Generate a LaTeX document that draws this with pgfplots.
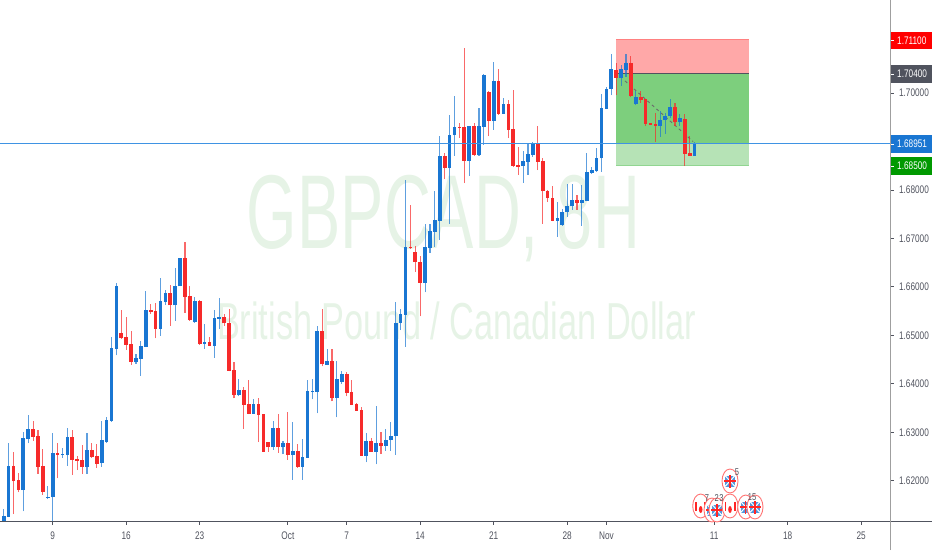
\documentclass[border=0pt]{standalone}
\usepackage{pgfplots}
\usepackage{pgfplotstable}
\usepackage{graphicx}
\usepackage{fontspec}
\setmainfont{Liberation Sans}
\pgfplotsset{compat=1.18}
\definecolor{upc}{HTML}{1976D2}
\definecolor{dnc}{HTML}{F62A2A}
\definecolor{wm}{HTML}{E6F3E6}
\definecolor{axc}{HTML}{50535E}
\definecolor{lab}{HTML}{50535E}
\definecolor{priceline}{HTML}{3F93E3}
\newcommand\sq[1]{\scalebox{.75}[1]{#1}}
\newcommand\UK[2]{\begin{scope}[shift={(#1pt,#2pt)}]
 \draw[draw=red!55,fill=white,line width=.9pt] (0,0) ellipse (8pt and 12pt);
 \fill[upc!75] (-5pt,-5.5pt) rectangle (5pt,5.5pt);
 \draw[white,line width=1pt] (-5pt,-5.5pt)--(5pt,5.5pt) (-5pt,5.5pt)--(5pt,-5.5pt);
 \draw[red!85,line width=1.1pt] (-6pt,0)--(6pt,0) (0,-6.5pt)--(0,6.5pt);
\end{scope}}
\newcommand\CA[2]{\begin{scope}[shift={(#1pt,#2pt)}]
 \draw[draw=red!55,fill=white,line width=.9pt] (0,0) ellipse (8pt and 12pt);
 \fill[red!85] (-5.5pt,-4.5pt) rectangle (-3.7pt,4.5pt);
 \fill[red!85] (3.7pt,-4.5pt) rectangle (5.5pt,4.5pt);
 \fill[red!85] (0,-3.5pt) ellipse (1.8pt and 3.5pt);
\end{scope}}
% i open close high low
\pgfplotstableread{
i o c h l
0 1.6117 1.6128 1.6141 1.6117
1 1.6126 1.6231 1.6279 1.6125
4 1.6181 1.6289 1.6301 1.6137
5 1.6286 1.6306 1.6335 1.6277
9 1.6165 1.6167 1.6189 1.6162
10 1.6166 1.6258 1.6299 1.6117
12 1.6254 1.6256 1.6268 1.6248
13 1.6253 1.6290 1.6308 1.6231
17 1.6229 1.6264 1.6299 1.6215
20 1.6236 1.6284 1.6324 1.6229
21 1.6281 1.6326 1.6331 1.6279
22 1.6324 1.6473 1.6496 1.6322
23 1.6472 1.6602 1.6609 1.6459
27 1.6445 1.6453 1.6461 1.6442
28 1.6452 1.6478 1.6489 1.6417
29 1.6477 1.6553 1.6591 1.6477
32 1.6514 1.6571 1.6618 1.6499
33 1.6569 1.6588 1.6594 1.6563
35 1.6562 1.6602 1.6639 1.6530
36 1.6601 1.6659 1.6660 1.6601
39 1.6527 1.6571 1.6579 1.6526
41 1.6483 1.6486 1.6524 1.6472
43 1.6479 1.6535 1.6552 1.6454
44 1.6534 1.6537 1.6577 1.6513
48 1.6376 1.6387 1.6410 1.6374
51 1.6338 1.6359 1.6368 1.6338
55 1.6269 1.6308 1.6324 1.6264
57 1.6269 1.6278 1.6282 1.6255
59 1.6253 1.6262 1.6321 1.6202
61 1.6229 1.6249 1.6286 1.6202
62 1.6248 1.6385 1.6408 1.6248
63 1.6384 1.6385 1.6410 1.6368
64 1.6384 1.6509 1.6520 1.6339
66 1.6439 1.6447 1.6472 1.6438
68 1.6371 1.6410 1.6447 1.6331
69 1.6404 1.6420 1.6426 1.6400
74 1.6252 1.6282 1.6298 1.6238
76 1.6260 1.6277 1.6354 1.6234
78 1.6272 1.6284 1.6306 1.6262
79 1.6284 1.6293 1.6321 1.6262
80 1.6292 1.6526 1.6569 1.6254
81 1.6526 1.6544 1.6555 1.6511
82 1.6543 1.6683 1.6821 1.6477
86 1.6609 1.6683 1.6729 1.6589
87 1.6681 1.6716 1.6729 1.6671
88 1.6714 1.6738 1.6798 1.6683
89 1.6736 1.6870 1.6912 1.6697
91 1.6846 1.6914 1.6955 1.6730
92 1.6913 1.6929 1.6994 1.6871
95 1.6860 1.6932 1.6932 1.6829
97 1.6872 1.6932 1.6969 1.6871
98 1.6930 1.7038 1.7039 1.6893
100 1.6942 1.7024 1.7064 1.6924
102 1.6957 1.6978 1.6989 1.6957
106 1.6849 1.6859 1.6881 1.6815
107 1.6858 1.6874 1.6895 1.6831
108 1.6873 1.6894 1.6899 1.6869
113 1.6737 1.6742 1.6775 1.6704
114 1.6728 1.6755 1.6760 1.6726
115 1.6755 1.6767 1.6812 1.6745
116 1.6766 1.6779 1.6812 1.6759
118 1.6774 1.6779 1.6810 1.6726
119 1.6778 1.6837 1.6876 1.6777
120 1.6836 1.6841 1.6848 1.6834
121 1.6840 1.6866 1.6886 1.6838
122 1.6865 1.6969 1.6998 1.6838
123 1.6968 1.7008 1.7013 1.6967
124 1.7008 1.7049 1.7080 1.6995
126 1.7032 1.7049 1.7058 1.7015
127 1.7048 1.7062 1.7080 1.7034
129 1.6977 1.6992 1.7004 1.6975
134 1.6932 1.6944 1.6962 1.6910
135 1.6944 1.6953 1.6958 1.6916
136 1.6953 1.6971 1.6987 1.6948
138 1.6941 1.6948 1.6957 1.6932
141 1.6871 1.6894 1.6900 1.6871
}\upT
\pgfplotstableread{
i o c h l
2 1.6231 1.6199 1.6260 1.6131
3 1.6201 1.6181 1.6216 1.6176
6 1.6306 1.6291 1.6324 1.6283
7 1.6293 1.6229 1.6305 1.6215
8 1.6231 1.6177 1.6266 1.6171
11 1.6258 1.6254 1.6279 1.6205
14 1.6290 1.6243 1.6304 1.6212
15 1.6244 1.6241 1.6251 1.6222
16 1.6242 1.6229 1.6273 1.6214
18 1.6264 1.6249 1.6277 1.6247
19 1.6251 1.6235 1.6276 1.6227
24 1.6505 1.6494 1.6553 1.6493
25 1.6496 1.6481 1.6538 1.6470
26 1.6482 1.6446 1.6509 1.6439
30 1.6553 1.6549 1.6565 1.6545
31 1.6550 1.6514 1.6566 1.6494
34 1.6588 1.6562 1.6604 1.6520
37 1.6659 1.6580 1.6692 1.6547
38 1.6581 1.6532 1.6602 1.6530
40 1.6571 1.6482 1.6573 1.6481
42 1.6486 1.6479 1.6496 1.6478
45 1.6537 1.6525 1.6544 1.6520
46 1.6526 1.6427 1.6555 1.6426
47 1.6429 1.6377 1.6445 1.6370
49 1.6387 1.6357 1.6394 1.6307
50 1.6359 1.6338 1.6407 1.6337
52 1.6359 1.6336 1.6370 1.6280
53 1.6337 1.6260 1.6338 1.6259
54 1.6280 1.6269 1.6280 1.6260
56 1.6308 1.6269 1.6337 1.6258
58 1.6277 1.6254 1.6341 1.6243
60 1.6262 1.6229 1.6275 1.6227
65 1.6509 1.6440 1.6555 1.6436
67 1.6447 1.6371 1.6472 1.6364
70 1.6420 1.6382 1.6425 1.6374
71 1.6383 1.6357 1.6408 1.6356
72 1.6359 1.6345 1.6361 1.6344
73 1.6346 1.6252 1.6352 1.6252
75 1.6282 1.6260 1.6289 1.6260
77 1.6277 1.6272 1.6300 1.6255
83 1.6683 1.6680 1.6769 1.6678
84 1.6672 1.6651 1.6685 1.6631
85 1.6652 1.6609 1.6664 1.6539
90 1.6870 1.6846 1.6876 1.6822
93 1.6929 1.6928 1.6938 1.6908
94 1.6929 1.6860 1.7093 1.6814
96 1.6932 1.6873 1.6938 1.6870
99 1.7002 1.6942 1.7004 1.6911
101 1.7024 1.6957 1.7049 1.6955
103 1.6978 1.6924 1.6986 1.6907
104 1.6925 1.6850 1.7007 1.6848
105 1.6852 1.6848 1.6888 1.6831
109 1.6894 1.6858 1.6932 1.6841
110 1.6859 1.6797 1.6865 1.6730
111 1.6797 1.6783 1.6799 1.6775
112 1.6784 1.6737 1.6809 1.6735
117 1.6779 1.6774 1.6789 1.6759
125 1.7048 1.7032 1.7063 1.6995
128 1.7062 1.6993 1.7077 1.6991
130 1.6992 1.6986 1.7004 1.6980
131 1.6987 1.6937 1.6988 1.6933
132 1.6938 1.6935 1.6938 1.6934
133 1.6936 1.6933 1.6958 1.6900
137 1.6971 1.6941 1.6980 1.6932
139 1.6947 1.6875 1.6957 1.6850
140 1.6876 1.6871 1.6911 1.6871
}\dnT
\begin{document}
\begin{tikzpicture}[x=1pt,y=1pt]
\path[use as bounding box] (0,-28.5) rectangle (932,521.5);
\begin{axis}[
  at={(0,0)},anchor=south west,scale only axis,
  width=890.5pt,height=521.5pt,
  xmin=-0.755,xmax=180.98,ymin=1.6116,ymax=1.7192,
  axis line style={draw=none},
  xtick={10,25,40,58,70,85,100,115,123,145,160,175},
  xticklabels={\sq{9},\sq{16},\sq{23},\sq{Oct},\sq{7},\sq{14},\sq{21},\sq{28},\sq{Nov},\sq{11},\sq{18},\sq{25}},
  ytick={1.62,1.63,1.64,1.65,1.66,1.67,1.68,1.70},
  yticklabels={\sq{1.62000},\sq{1.63000},\sq{1.64000},\sq{1.65000},\sq{1.66000},\sq{1.67000},\sq{1.68000},\sq{1.70000}},
  xtick pos=bottom,ytick pos=right,tick align=outside,
  major tick length=3pt,
  tick style={axc,line width=.9pt},
  xticklabel style={font=\fontsize{11}{11}\selectfont,text=axc,yshift=-4pt},
  yticklabel style={font=\fontsize{11}{11}\selectfont,text=axc,xshift=2pt},
  grid=none,clip=true,
]
% watermark
\node[text=wm,font=\fontsize{105}{105}\selectfont,anchor=center] at (axis cs:89.75,1.6742) {\scalebox{.618}[1]{GBPCAD, 8H}};
\node[text=wm,font=\fontsize{52}{52}\selectfont,anchor=center] at (axis cs:92.4,1.6530) {\scalebox{.66}[1]{British Pound / Canadian Dollar}};
% position box
\addplot[fill=red!34,draw=none] coordinates {(125,1.711)(152.1,1.711)(152.1,1.704)(125,1.704)(125,1.711)};
\addplot[fill={rgb,255:red,125;green,207;blue,125},draw=none] coordinates {(125,1.704)(152.1,1.704)(152.1,1.68951)(125,1.68951)(125,1.704)};
\addplot[fill={rgb,255:red,182;green,227;blue,182},draw=none] coordinates {(125,1.68951)(152.1,1.68951)(152.1,1.685)(125,1.685)(125,1.68951)};
\addplot[draw=red!50,line width=.9pt] coordinates {(125,1.711)(152.1,1.711)};
\addplot[draw=lab,line width=1.2pt] coordinates {(125,1.704)(152.1,1.704)};
\addplot[draw={rgb,255:red,145;green,213;blue,145},line width=.9pt] coordinates {(125,1.685)(152.1,1.685)};
\addplot[draw=gray!85!black,line width=.9pt,dash pattern=on 3pt off 3pt] coordinates {(126.8,1.7025)(140.7,1.6900)};
% wicks
\addplot[mark=none,draw=none,error bars/.cd,y dir=plus,y explicit,error mark=none,error bar style={line width=1.1pt,color=upc,opacity=.7}]
  table[x=i,y=l,y error plus expr=\thisrow{h}-\thisrow{l}] {\upT};
\addplot[mark=none,draw=none,error bars/.cd,y dir=plus,y explicit,error mark=none,error bar style={line width=1.1pt,color=dnc,opacity=.7}]
  table[x=i,y=l,y error plus expr=\thisrow{h}-\thisrow{l}] {\dnT};
% bodies
\addplot[mark=none,draw=none,error bars/.cd,y dir=plus,y explicit,error mark=none,error bar style={line width=3.7pt,color=upc}]
  table[x=i,y=o,y error plus expr=\thisrow{c}-\thisrow{o}] {\upT};
\addplot[mark=none,draw=none,error bars/.cd,y dir=plus,y explicit,error mark=none,error bar style={line width=3.7pt,color=dnc}]
  table[x=i,y=c,y error plus expr=\thisrow{o}-\thisrow{c}] {\dnT};
% current price
\addplot[draw=priceline,solid,line width=1pt] coordinates {(-0.755,1.68951)(180.98,1.68951)};
\end{axis}
% axis lines
\draw[axc,line width=1pt] (0,0)--(932,0);
\draw[gray!75,line width=1.4pt] (890.7,-28.5)--(890.7,521.5);
% price labels
\fill[red] (891.4,472.5) rectangle (932,489.5);
\fill[lab] (891.4,438.5) rectangle (932,456.5);
\fill[upc] (891.4,368.5) rectangle (932,386.5);
\fill[green!60!black] (891.4,346.5) rectangle (932,364.5);
\foreach \yy/\tt in {481/1.71100,447.5/1.70400,377.5/1.68951,355.5/1.68500}{
  \draw[white,line width=.9pt] (891.4,\yy)--(894,\yy);
  \node[text=white,font=\fontsize{11}{11}\selectfont,anchor=west,inner sep=0pt] at (897,\yy) {\sq{\tt}};
}
% event flags
\CA{700.7}{15.5}
\UK{712}{11.5}
\UK{717}{11.5}
\CA{730}{15.5}
\UK{730}{40.5}
\UK{745.7}{14.5}
\UK{755}{14.5}
\foreach \xx/\yy/\tt in {737/49/5,707/23.5/7,716.7/23.5/2,721.5/23.5/3,752/24/15}{
  \node[text=axc,font=\fontsize{10}{10}\selectfont,inner sep=.3pt] at (\xx,\yy) {\sq{\tt}};
}
\end{tikzpicture}
\end{document}
